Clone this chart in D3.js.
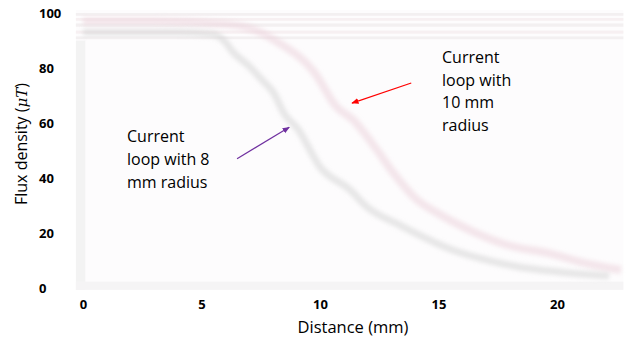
<!DOCTYPE html>
<html>
<head>
<meta charset="utf-8">
<script src="https://cdn.jsdelivr.net/npm/d3@7/dist/d3.min.js"></script>
<style>
  html, body { margin: 0; padding: 0; background: #ffffff; }
  svg { display: block; }
  text { font-family: "Open Sans", "Liberation Sans", sans-serif; }
</style>
</head>
<body>
<svg id="chart" width="627" height="341"></svg>
<script>
// ---- data ----
const xTicks = [0, 5, 10, 15, 20];
const yTicks = [0, 20, 40, 60, 80, 100];

// Current loop with 8 mm radius
const loop8Distance = [0, 2, 4, 5.5, 6.0, 6.33, 6.96, 7.55, 8.02, 8.52, 9.03, 10.0, 11.27, 11.98, 13.37, 15.6, 17.05, 18.4, 20.1, 22.2];
const loop8Flux     = [93, 93, 93, 92.3, 89.5, 85.8, 81.1, 75.7, 71.3, 63, 58.3, 44.1, 35.8, 29.6, 23.0, 14, 10.3, 7.8, 6, 4.5];

// Current loop with 10 mm radius
const loop10Distance = [0, 3, 6, 7.2, 8.2, 9.75, 10.7, 11.4, 12.4, 13.1, 14.0, 15.1, 16.5, 17.9, 19.8, 21.0, 22.7];
const loop10Flux     = [97, 97, 96, 94, 89.5, 78.6, 65.9, 61.2, 50.3, 41.9, 32.9, 26.7, 20.5, 15.8, 12.5, 9.6, 6.7];

// faint background bands of the plot (value ranges on the y axis)
const bandLow  = [99, 97.2, 95, 92.5, 90.5];
const bandHigh = [100, 98.2, 96.2, 93.6, 91.5];

const svg = d3.select("#chart");

const x = d3.scaleLinear().domain([0, 20]).range([83, 557]);
const y = d3.scaleLinear().domain([0, 100]).range([288.5, 13]);

// plot backdrop
const plotX0 = x(-0.3), plotX1 = x(22.8), plotY0 = y(101), plotY1 = y(-0.5);
svg.append("rect")
  .attr("x", plotX0).attr("y", plotY0)
  .attr("width", plotX1 - plotX0).attr("height", plotY1 - plotY0)
  .attr("fill", "#fdfcfd");

// faint horizontal bands near the top
svg.append("g").selectAll("rect")
  .data(d3.range(bandLow.length))
  .join("rect")
  .attr("x", plotX0)
  .attr("width", plotX1 - plotX0)
  .attr("y", i => y(bandHigh[i]))
  .attr("height", i => y(bandLow[i]) - y(bandHigh[i]))
  .attr("fill", (i) => i % 2 ? "#f6eef1" : "#f2eef0")
  .attr("opacity", 0.9);

// faint left strip and bottom strip
svg.append("rect")
  .attr("x", plotX0).attr("y", y(90))
  .attr("width", x(0.1) - plotX0).attr("height", y(-0.5) - y(90))
  .attr("fill", "#f3f3f3");
svg.append("rect")
  .attr("x", plotX0).attr("y", y(2.5))
  .attr("width", plotX1 - plotX0).attr("height", y(-0.5) - y(2.5))
  .attr("fill", "#f5f4f5");

// blur filter to mimic the soft rendering
const defs = svg.append("defs");
defs.append("filter").attr("id", "soft")
  .attr("x", "-10%").attr("y", "-10%").attr("width", "120%").attr("height", "120%")
  .append("feGaussianBlur").attr("stdDeviation", 2.2);

const line = d3.line()
  .x(d => x(d[0]))
  .y(d => y(d[1]))
  .curve(d3.curveMonotoneX);

const s10 = d3.zip(loop10Distance, loop10Flux);
const s8 = d3.zip(loop8Distance, loop8Flux);

svg.append("path")
  .datum(s10)
  .attr("d", line)
  .attr("fill", "none")
  .attr("stroke", "#ecd3dc")
  .attr("stroke-width", 8)
  .attr("opacity", 0.55)
  .attr("filter", "url(#soft)");

svg.append("path")
  .datum(s8)
  .attr("d", line)
  .attr("fill", "none")
  .attr("stroke", "#d4d4d4")
  .attr("stroke-width", 7)
  .attr("opacity", 0.55)
  .attr("filter", "url(#soft)");

// axes
const xAxis = svg.append("g")
  .attr("transform", "translate(0,300)")
  .call(d3.axisBottom(x).tickValues(xTicks).tickSize(0).tickPadding(0));
xAxis.select(".domain").remove();
xAxis.selectAll("text")
  .attr("dy", "0.71em")
  .style("font-family", "'Open Sans', sans-serif")
  .style("font-weight", "700")
  .style("font-size", "13px")
  .attr("fill", "#000");

const yAxis = svg.append("g")
  .attr("transform", "translate(39,0)")
  .call(d3.axisLeft(y).tickValues(yTicks).tickSize(0));
yAxis.select(".domain").remove();
yAxis.selectAll("text")
  .attr("x", 0)
  .attr("text-anchor", "start")
  .style("font-family", "'Open Sans', sans-serif")
  .style("font-weight", "700")
  .style("font-size", "13px")
  .attr("fill", "#000");

// axis titles
svg.append("text")
  .attr("x", 353).attr("y", 333)
  .attr("text-anchor", "middle")
  .style("font-size", "16.5px")
  .attr("fill", "#000")
  .text("Distance (mm)");

const yt = svg.append("text")
  .attr("transform", "translate(27,144) rotate(-90)")
  .attr("text-anchor", "middle")
  .style("font-size", "16px")
  .attr("fill", "#000");
yt.append("tspan").text("Flux density (");
yt.append("tspan").style("font-style", "italic").style("font-family", "'DejaVu Serif', serif").style("font-size", "15px").text("μT");
yt.append("tspan").text(")");

// annotations
const ann8 = ["Current", "loop with 8", "mm radius"];
const ann10 = ["Current", "loop with", "10 mm", "radius"];

svg.append("text")
  .attr("x", 127).attr("y", 142)
  .style("font-size", "16px").attr("fill", "#000")
  .selectAll("tspan").data(ann8).join("tspan")
  .attr("x", 127).attr("dy", (d, i) => i ? 23 : 0)
  .text(d => d);

svg.append("text")
  .attr("x", 442).attr("y", 63)
  .style("font-size", "16px").attr("fill", "#000")
  .selectAll("tspan").data(ann10).join("tspan")
  .attr("x", 442).attr("dy", (d, i) => i ? 22.6 : 0)
  .text(d => d);

// arrows (pointing at the curves, placed in data space)
function arrowMarker(id, color) {
  defs.append("marker").attr("id", id)
    .attr("viewBox", "0 0 10 10").attr("refX", 9).attr("refY", 5)
    .attr("markerWidth", 6).attr("markerHeight", 6)
    .attr("orient", "auto")
    .append("path").attr("d", "M0,1 L10,5 L0,9 Z").attr("fill", color);
}
arrowMarker("arrPurple", "#7030a0");
arrowMarker("arrRed", "#ff0000");

const arrow8From = [6.5, 47.1], arrow8To = [8.7, 58.5];
const arrow10From = [13.85, 74.6], arrow10To = [11.35, 67.3];

svg.append("line")
  .attr("x1", x(arrow8From[0])).attr("y1", y(arrow8From[1]))
  .attr("x2", x(arrow8To[0])).attr("y2", y(arrow8To[1]))
  .attr("stroke", "#7030a0").attr("stroke-width", 1.2)
  .attr("marker-end", "url(#arrPurple)");

svg.append("line")
  .attr("x1", x(arrow10From[0])).attr("y1", y(arrow10From[1]))
  .attr("x2", x(arrow10To[0])).attr("y2", y(arrow10To[1]))
  .attr("stroke", "#ff0000").attr("stroke-width", 1.2)
  .attr("marker-end", "url(#arrRed)");
</script>
</body>
</html>
